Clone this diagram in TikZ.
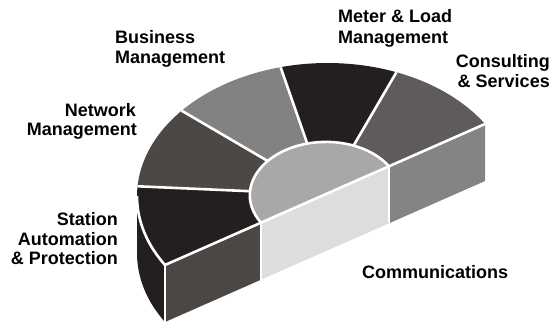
\documentclass[tikz,border=0pt]{standalone}
\usepackage{fontspec}
\setmainfont{Liberation Sans}
\definecolor{cBlack}{HTML}{231F20}
\definecolor{cNet}{HTML}{4C4846}
\definecolor{cBus}{HTML}{828282}
\definecolor{cCons}{HTML}{5F5B5A}
\definecolor{cHub}{HTML}{A9A8A7}
\definecolor{cFrontHub}{HTML}{DDDDDD}
\definecolor{cFrontR}{HTML}{848484}
\definecolor{cFrontL}{HTML}{4B4745}
\begin{document}
\begin{tikzpicture}[x=1pt,y=1pt,
  sepline/.style={white,line width=2.6pt},
  lbl/.style={font=\bfseries\fontsize{18}{20}\selectfont,inner sep=0pt}]
\useasboundingbox (0,0) rectangle (557,-324);
\def\du{-0.2276}
\def\dv{-0.3690}
\begin{scope}[shift={(325,-194.5)},x={(160pt,70.5pt)},y={(-98.7pt,111pt)}]
  % curved side surface (visible part)
  \fill[cBlack] plot[domain=148.33:180,samples=30] ({cos(\x)},{sin(\x)})
     -- plot[domain=180:148.33,samples=30] ({cos(\x)+\du},{sin(\x)+\dv}) -- cycle;
  % front cut face
  \fill[cFrontL] (-1,0) -- (-0.4,0) -- ++(0pt,-57pt) -- ({-1+\du},{\dv}) -- cycle;
  \fill[cFrontHub] (-0.4,0) -- (0.4,0) -- ++(0pt,-57pt) -- ({-0.4+\du},{\dv}) -- cycle;
  \fill[cFrontR] (0.4,0) -- (1,0) -- ++(0pt,-57pt) -- ({0.4+\du},{\dv}) -- cycle;
  % top sectors
  \foreach \a/\b/\c in {0/36/cCons,36/72/cBlack,72/108/cBus,108/144/cNet,144/180/cBlack}{
    \fill[\c] plot[domain=\a:\b,samples=30] ({cos(\x)},{sin(\x)})
      -- plot[domain=\b:\a,samples=20] ({0.4*cos(\x)},{0.4*sin(\x)}) -- cycle;
  }
  % hub
  \fill[cHub] plot[domain=0:180,samples=40] ({0.4*cos(\x)},{0.4*sin(\x)}) -- cycle;
  % white separators
  \foreach \t in {36,72,108,144}{
    \draw[sepline] ({0.4*cos(\t)},{0.4*sin(\t)}) -- ({cos(\t)},{sin(\t)});
  }
  \draw[sepline] plot[domain=0:180,samples=40] ({0.4*cos(\x)},{0.4*sin(\x)});
  \draw[sepline] plot[domain=148.33:180,samples=30] ({cos(\x)},{sin(\x)});
  \draw[sepline] (-1,0) -- (1,0);
  \draw[sepline] (-1,0) -- ++(0pt,-57pt);
  \draw[sepline] (-0.4,0) -- ++(0pt,-57pt);
  \draw[sepline] (0.4,0) -- ++(0pt,-57pt);
\end{scope}
% labels
\node[lbl,anchor=base west] (bus1) at (115,-43) {Business};
\node[lbl,anchor=base west] (bus2) at (115,-63) {Management};
\node[lbl,anchor=base west] (met1) at (338,-23) {Meter \& Load};
\node[lbl,anchor=base west] (met2) at (338,-43) {Management};
\node[lbl,anchor=base east] (con1) at (550,-67) {Consulting};
\node[lbl,anchor=base east] (con2) at (550,-87) {\& Services};
\node[lbl,anchor=base east] (net1) at (136,-116) {Network};
\node[lbl,anchor=base east] (net2) at (137,-135) {Management};
\node[lbl,anchor=base east] (sta1) at (118,-225) {Station};
\node[lbl,anchor=base east] (sta2) at (118,-245) {Automation};
\node[lbl,anchor=base east] (sta3) at (118,-264) {\& Protection};
\node[lbl,anchor=base west] (com) at (362,-278) {Communications};
\end{tikzpicture}
\end{document}
